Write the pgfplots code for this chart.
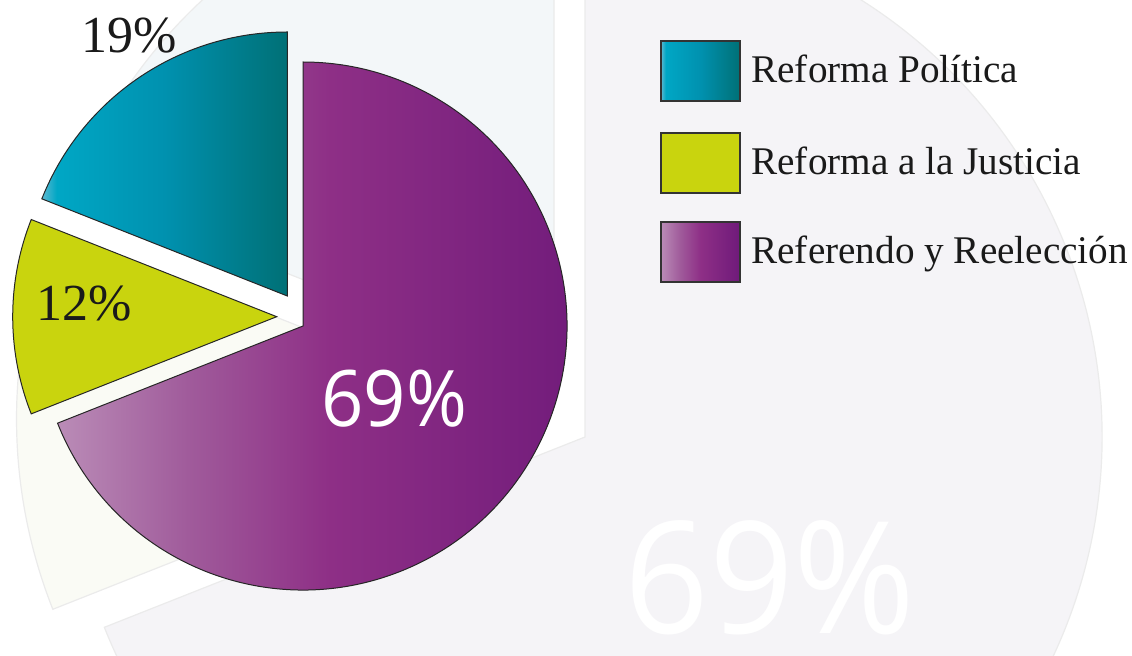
\documentclass[border=0pt]{standalone}
\usepackage{fontspec}
\setmainfont{Liberation Serif}
\usepackage{pgfplots}
\usepackage{pgfplotstable}
\pgfplotsset{compat=1.18}
\newfontfamily\labsans{Open Sans}
\definecolor{yel}{HTML}{C9D40E}
\definecolor{tealA}{HTML}{5DB9D1}
\definecolor{tealB}{HTML}{00A7C5}
\definecolor{tealC}{HTML}{0091AF}
\definecolor{tealD}{HTML}{007076}
\definecolor{purA}{HTML}{BA8CB7}
\definecolor{purB}{HTML}{A05B9B}
\definecolor{purC}{HTML}{8E2F86}
\definecolor{purD}{HTML}{6F1A7A}
\definecolor{ghP}{HTML}{F5F4F7}
\definecolor{ghT}{HTML}{F3F7F9}
\definecolor{ghY}{HTML}{FAFBF5}
\definecolor{ghL}{HTML}{EBEBEB}
\definecolor{txt}{HTML}{1A1A1A}
\pgfdeclarehorizontalshading{tealsh}{100bp}{color(0bp)=(tealA); color(25bp)=(tealA); color(28bp)=(tealB); color(50bp)=(tealC); color(75bp)=(tealD); color(100bp)=(tealD)}
\pgfdeclarehorizontalshading{pursh}{100bp}{color(0bp)=(purA); color(25bp)=(purA); color(37bp)=(purB); color(50bp)=(purC); color(75bp)=(purD); color(100bp)=(purD)}
\pgfplotstableread{
name value
Politica 19
Justicia 12
Referendo 69
}\piedata
\begin{document}
\begin{tikzpicture}
\pgfplotstablegetelem{0}{value}\of\piedata \let\vA\pgfplotsretval
\pgfplotstablegetelem{1}{value}\of\piedata \let\vB\pgfplotsretval
\pgfplotstablegetelem{2}{value}\of\piedata \let\vC\pgfplotsretval
\pgfmathsetmacro\aT{90+3.6*\vA}
\pgfmathsetmacro\aY{\aT+3.6*\vB}
\pgfmathsetmacro\aP{\aY+3.6*\vC}
\begin{axis}[scale only axis, width=566pt, height=328pt,
  xmin=0, xmax=1132, ymin=0, ymax=656, y dir=reverse,
  hide axis, clip=false]
\addplot[draw=none, forget plot] coordinates {(0,0)};
\pgfplotsextra{
  \begin{scope}
  \clip (axis cs:0,0) rectangle (axis cs:1132,656);
  % ghost copy
  \filldraw[fill=ghP, draw=ghL, line width=0.6pt] (axis cs:585,437) -- ++(\aY:258.5pt) arc[start angle=\aY, end angle=\aP, radius=258.5pt] -- cycle;
  \filldraw[fill=ghT, draw=ghL, line width=0.6pt] (axis cs:554,379) -- ++(90:258.5pt) arc[start angle=90, end angle=\aT, radius=258.5pt] -- cycle;
  \filldraw[fill=ghY, draw=ghL, line width=0.6pt] (axis cs:533.5,419) -- ++(\aT:258.5pt) arc[start angle=\aT, end angle=\aY, radius=258.5pt] -- cycle;
  \node[anchor=base west, inner sep=0pt, text=white, xscale=0.95, font=\labsans\fontsize{78}{80}\selectfont] at (axis cs:624,633) {69\%};
  \end{scope}
  % main pie
  \shadedraw[shading=pursh, draw=black!85, line width=0.5pt] (axis cs:303,326) -- ++(\aY:132pt) arc[start angle=\aY, end angle=\aP, radius=132pt] -- cycle;
  \shadedraw[shading=tealsh, draw=black!85, line width=0.5pt] (axis cs:287.3,296) -- ++(90:132pt) arc[start angle=90, end angle=\aT, radius=132pt] -- cycle;
  \filldraw[fill=yel, draw=black!85, line width=0.5pt] (axis cs:276.7,316.7) -- ++(\aT:132pt) arc[start angle=\aT, end angle=\aY, radius=132pt] -- cycle;
  % slice labels
  \node[anchor=base west, inner sep=0pt, text=txt, font=\fontsize{26}{28}\selectfont] at (axis cs:81,53) {19\%};
  \node[anchor=base west, inner sep=0pt, text=txt, font=\fontsize{26}{28}\selectfont] at (axis cs:36,321) {12\%};
  \node[anchor=base west, inner sep=0pt, text=white, xscale=0.95, font=\labsans\fontsize{39}{40}\selectfont] at (axis cs:321,427) {69\%};
  % legend
  \shadedraw[shading=tealsh, draw=black!80, line width=0.8pt] (axis cs:661,41) rectangle (axis cs:740,101);
  \filldraw[fill=yel, draw=black!80, line width=0.8pt] (axis cs:661,133) rectangle (axis cs:740,193);
  \shadedraw[shading=pursh, draw=black!80, line width=0.8pt] (axis cs:661,222) rectangle (axis cs:740,282);
  \node[anchor=base west, inner sep=0pt, text=txt, font=\fontsize{19.6}{21}\selectfont] at (axis cs:751,83) {Reforma Política};
  \node[anchor=base west, inner sep=0pt, text=txt, font=\fontsize{19.6}{21}\selectfont] at (axis cs:751,175) {Reforma a la Justicia};
  \node[anchor=base west, inner sep=0pt, text=txt, font=\fontsize{19.6}{21}\selectfont] at (axis cs:751,264) {Referendo y Reelección};
}
\end{axis}
\pgfresetboundingbox
\useasboundingbox (current axis.south west) rectangle (current axis.north east);
\end{tikzpicture}
\end{document}
